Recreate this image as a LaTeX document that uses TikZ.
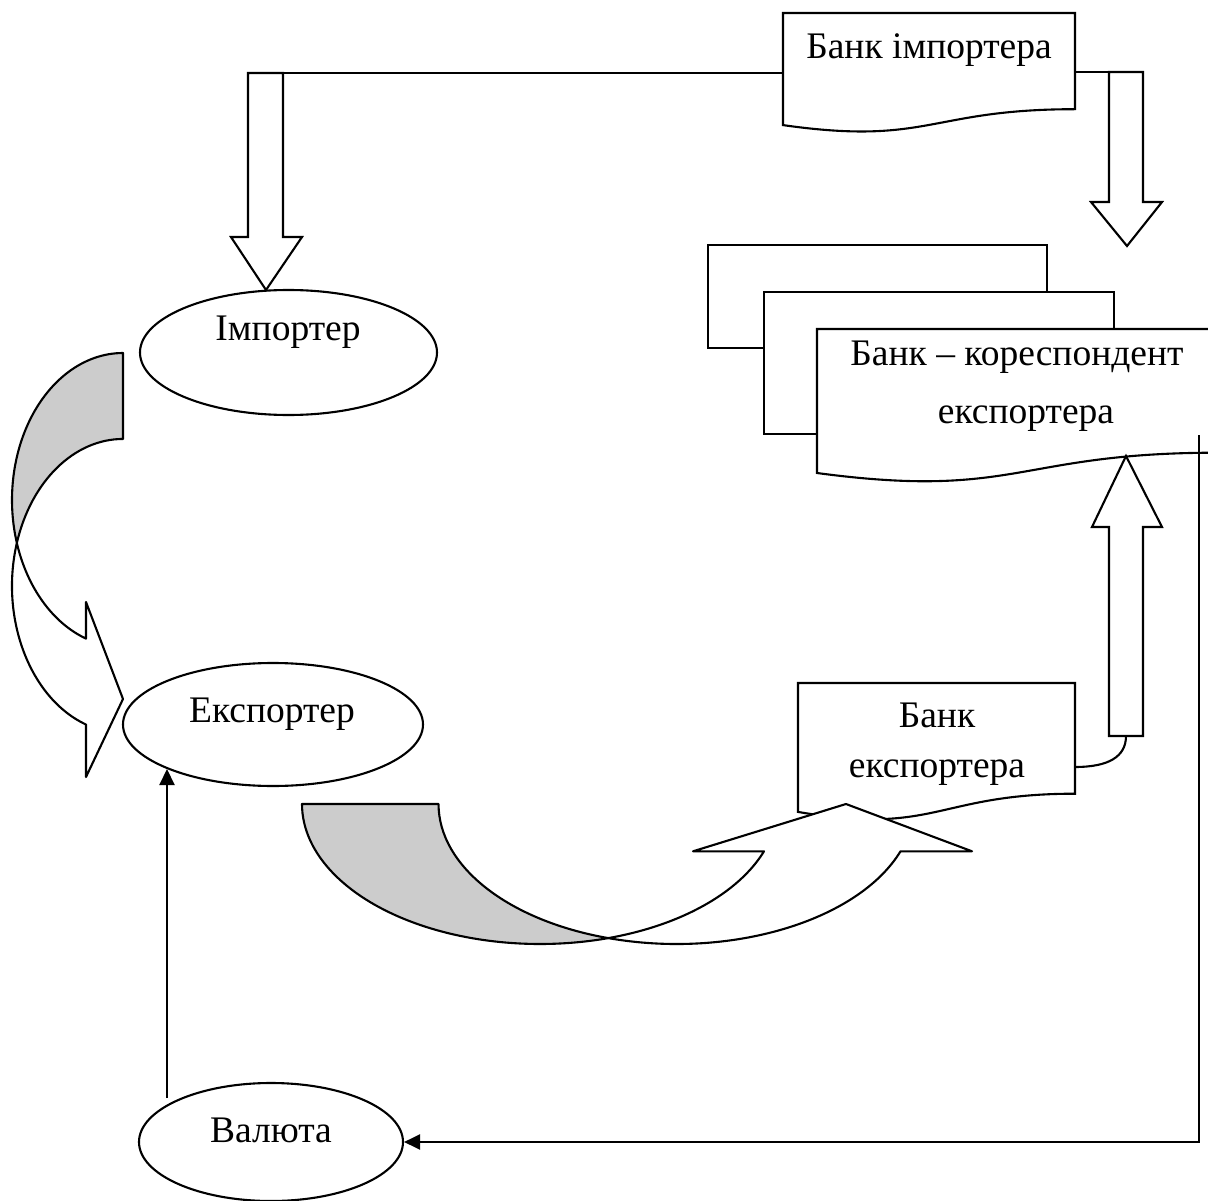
\documentclass[tikz,border=0pt]{standalone}
\usepackage{fontspec}
\setmainfont{Liberation Serif}
\usetikzlibrary{shapes.geometric,arrows.meta}
\begin{document}
\begin{tikzpicture}[x=1pt,y=-1pt,line width=2.1pt,
  txt/.style={font=\fontsize{37.5}{45}\selectfont, inner sep=0pt, anchor=base},
  docshape/.style={draw=black, fill=white, line join=miter},
  blockarrow/.style={draw=black, fill=white, line join=miter},
  bandback/.style={draw=black, fill=black!20, line join=round},
  bandfront/.style={draw=black, fill=white, line join=round},
  oval/.style={ellipse, draw=black, fill=white, inner sep=0pt},
  link/.style={draw=black, line join=miter},
  linkarrow/.style={draw=black, -{Triangle[length=16pt,width=15pt]}},
]
\useasboundingbox (0,0) rectangle (1208,1201);

% ---- Bank importer
\path[docshape] (783,13) -- (1075,13) -- (1075,109.2)
  .. controls (929,109.2) and (929,145.9) .. (783,125.1) -- cycle;
\node[txt] (bimpT) at (929,59) {Банк імпортера};

% connectors from bank importer
\coordinate (biW) at (783,73);
\coordinate (laTop) at (248,73);
\coordinate (biE) at (1075,72);
\coordinate (raTop) at (1143,72);
\draw[link] (biW) -- (laTop);
\draw[link] (biE) -- (raTop);

% block arrow down to importer
\path[blockarrow] (248,73) -- (248,237) -- (231,237) -- (266,290) -- (302,237)
  -- (283,237) -- (283,73) -- cycle;
% block arrow down to correspondent bank
\path[blockarrow] (1109,72) -- (1109,202) -- (1091,202) -- (1127,246) -- (1162,202)
  -- (1143,202) -- (1143,72) -- cycle;

% ---- Correspondent bank (stacked pages)
\path[docshape] (708,245) rectangle (1047,348);
\path[docshape] (764,292) rectangle (1114,434);
\path[docshape] (817,329) -- (1217,329) -- (1217,452.7)
  .. controls (1017,452.7) and (1017,499.8) .. (817,473) -- cycle;
\node[txt] (corrT1) at (1017,365) {Банк – кореспондент};
\node[txt] (corrT2) at (1026,423) {експортера};

% ---- Up block arrow from exporter bank
\path[blockarrow] (1109,736) -- (1109,527) -- (1092,527) -- (1126,456) -- (1162,527)
  -- (1143,527) -- (1143,736) -- cycle;

% ---- Exporter bank
\path[docshape] (798,683) -- (1075,683) -- (1075,793.7)
  .. controls (936.5,793.7) and (936.5,835.8) .. (798,811.9) -- cycle;
\node[txt] (bexT1) at (937,727) {Банк};
\node[txt] (bexT2) at (937,777) {експортера};

\coordinate (beE) at (1075,767);
\coordinate (uaB) at (1126,736);
\draw[link] (beE) .. controls (1108,767) and (1126,757) .. (uaB);

% ---- Bottom curved arrow (exporter -> exporter bank)
\path[bandback] (302,804)
  arc[start angle=180, end angle=73.33, x radius=238, y radius=140]
  arc[start angle=106.67, end angle=180, x radius=238, y radius=140] -- cycle;
\path[bandfront] (608.25,938.1)
  arc[start angle=106.67, end angle=19.76, x radius=238, y radius=140]
  -- (972,851.3) -- (846,804) -- (693,851.3) -- (764,851.3)
  arc[start angle=19.76, end angle=73.33, x radius=238, y radius=140] -- cycle;

% ---- Left curved arrow (importer -> exporter)
\path[bandback] (123,353)
  arc[start angle=270, end angle=163, x radius=111, y radius=147]
  arc[start angle=197, end angle=270, x radius=111, y radius=147] -- cycle;
\path[bandfront] (16.85,543)
  arc[start angle=197, end angle=109.47, x radius=111, y radius=147]
  -- (86,777) -- (123,699) -- (86,602) -- (86,638.6)
  arc[start angle=109.47, end angle=163, x radius=111, y radius=147] -- cycle;

% ---- Ellipses
\node[oval, minimum width=297pt, minimum height=125pt] (imp) at (288.5,352.5) {};
\node[txt] (impT) at (288,340) {Імпортер};
\node[oval, minimum width=300pt, minimum height=123pt] (exp) at (273,724.5) {};
\node[txt] (expT) at (272,722) {Експортер};
\node[oval, minimum width=264pt, minimum height=118pt] (val) at (271,1142) {};
\node[txt] (valT) at (271,1142) {Валюта};

% ---- Currency connectors
\coordinate (r0) at (1199,435);
\coordinate (r1) at (1199,1142);
\draw[linkarrow] (r0) -- (r1) -- (val.east);
\coordinate (v1) at (167,1098);
\coordinate (e1) at (167,769);
\draw[linkarrow] (v1) -- (e1);
\end{tikzpicture}
\end{document}
